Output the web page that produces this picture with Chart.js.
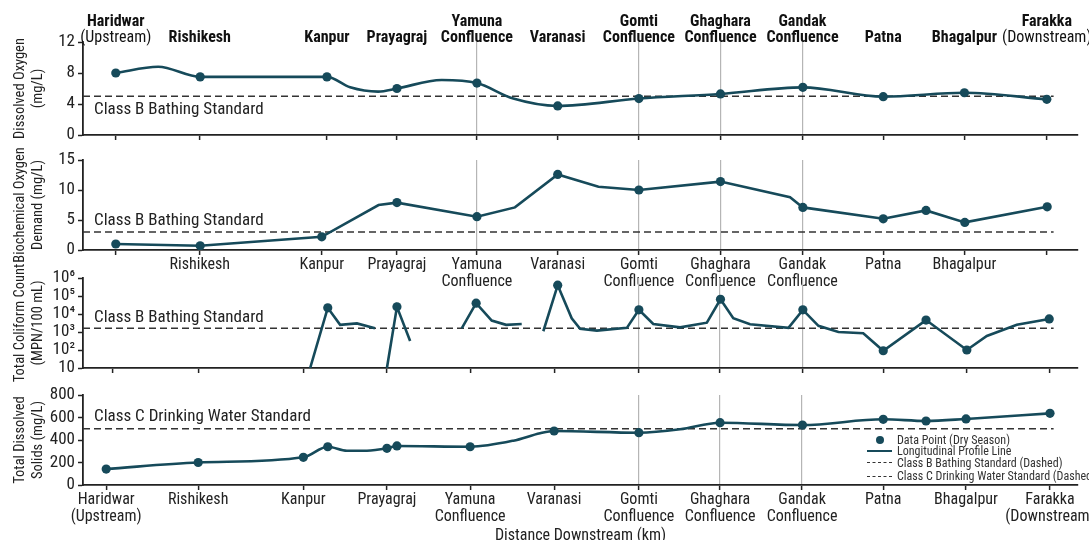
<!DOCTYPE html>
<html><head><meta charset="utf-8">
<script src="https://cdn.jsdelivr.net/npm/chart.js@4.4.1/dist/chart.umd.min.js"></script>
<style>
html,body{margin:0;padding:0;background:#fff;width:1089px;height:540px;overflow:hidden;position:relative;}
canvas{position:absolute;left:0;}
.lg{position:absolute;left:897px;white-space:nowrap;height:14px;line-height:14px;font-size:12px;color:#333;font-family:'Liberation Sans Narrow','Arial Narrow','Roboto Condensed','DejaVu Sans Condensed',sans-serif;}
.sym{position:absolute;}
</style></head><body>
<canvas id="c1" width="1089" height="145" style="top:0px"></canvas>
<canvas id="c2" width="1089" height="150" style="top:145px"></canvas>
<canvas id="c3" width="1089" height="135" style="top:247px"></canvas>
<canvas id="c4" width="1089" height="164" style="top:380px"></canvas>
<div class="sym" style="left:876px;top:436px;width:8px;height:8px;border-radius:50%;background:#164a5a"></div>
<div class="lg" style="top:433px">Data Point (Dry Season)</div>
<div class="sym" style="left:867px;top:450px;width:25px;height:0;border-top:2.5px solid #164a5a"></div>
<div class="lg" style="top:444px">Longitudinal Profile Line</div>
<div class="sym" style="left:867px;top:462px;width:25px;height:0;border-top:1.5px dashed #333"></div>
<div class="lg" style="top:456px">Class B Bathing Standard (Dashed)</div>
<div class="sym" style="left:867px;top:476px;width:25px;height:0;border-top:1.5px dashed #333"></div>
<div class="lg" style="top:469px">Class C Drinking Water Standard (Dashed)</div>
<script>
const F = "'Liberation Sans Narrow','Arial Narrow','Roboto Condensed','DejaVu Sans Condensed',sans-serif";
const TEAL = '#164a5a';
const XMIN = -82, XMAX = 2406, STD_END = 2345;

// station tick positions (km) per panel
const kmDO  = [0, 210, 528, 703, 903, 1105, 1308, 1512, 1717, 1919, 2122, 2328];
const kmBOD = [0, 210, 515, 703, 903, 1105, 1308, 1512, 1717, 1919, 2122, 2328];
const kmTC  = [-7, 208, 469, 678, 886, 1096, 1308, 1511, 1717, 1919, 2128, 2334];
const kmTDS = [-24, 206, 469, 678, 886, 1096, 1308, 1511, 1716, 1919, 2126, 2336];
const confUpper = [4, 6, 7, 8];
const confLower = [6, 7, 8];

// tick labels
const topLine1 = ["Haridwar", "", "", "", "Yamuna", "", "Gomti", "Ghaghara", "Gandak", "", "", "Farakka"];
const topLine2 = ["(Upstream)", "Rishikesh", "Kanpur", "Prayagraj", "Confluence", "Varanasi", "Confluence", "Confluence", "Confluence", "Patna", "Bhagalpur", "(Downstream)"];
const midLabels = ["", "Rishikesh", "Kanpur", "Prayagraj", ["Yamuna", "Confluence"], "Varanasi", ["Gomti", "Confluence"], ["Ghaghara", "Confluence"], ["Gandak", "Confluence"], "Patna", "Bhagalpur", ""];
const bottomLabels = [["Haridwar", "(Upstream)"], "Rishikesh", "Kanpur", "Prayagraj", ["Yamuna", "Confluence"], "Varanasi", ["Gomti", "Confluence"], ["Ghaghara", "Confluence"], ["Gandak", "Confluence"], "Patna", "Bhagalpur", ["Farakka", "(Downstream)"]];

// Dissolved Oxygen (mg/L)
const doLineX = [0, 106, 211, 528, 586, 656, 703, 815, 903, 994, 1105, 1308, 1512, 1718, 1919, 2122, 2328];
const doLineY = [8.0, 8.8, 7.5, 7.5, 6.15, 5.6, 6.0, 7.1, 6.7, 4.7, 3.75, 4.7, 5.3, 6.15, 4.95, 5.45, 4.6];
const doPtX = [0, 211, 528, 703, 903, 1105, 1308, 1512, 1718, 1919, 2122, 2328];
const doPtY = [8.0, 7.5, 7.5, 6.0, 6.7, 3.75, 4.7, 5.3, 6.15, 4.95, 5.45, 4.6];
const doStd = 5;
const doTicks = [0, 4, 8, 12];

// Biochemical Oxygen Demand (mg/L)
const bodLineX = [0, 211, 515, 657, 703, 903, 998, 1105, 1207, 1308, 1512, 1686, 1718, 1919, 2026, 2123, 2329];
const bodLineY = [1.0, 0.7, 2.2, 7.5, 7.9, 5.55, 7.1, 12.6, 10.55, 10.0, 11.4, 8.8, 7.1, 5.2, 6.6, 4.6, 7.2];
const bodPtX = [0, 211, 515, 703, 903, 1105, 1308, 1512, 1718, 1919, 2026, 2123, 2329];
const bodPtY = [1.0, 0.7, 2.2, 7.9, 5.55, 12.6, 10.0, 11.4, 7.1, 5.2, 6.6, 4.6, 7.2];
const bodStd = 3;
const bodTicks = [0, 5, 10, 15];

// Total Coliform (MPN/100 mL), null = break in the profile line
const tcLineX = [486, 530, 561, 603, 648, 660, 678, 703, 736, 800, 865, 901, 940, 976, 1015, 1040,
  1069, 1105, 1140, 1161, 1203, 1278, 1308, 1344, 1411, 1478, 1512, 1544, 1586, 1682, 1718, 1757, 1807, 1869, 1919, 2026, 2128, 2178, 2253, 2334];
const tcLineY = [10, 22000, 2500, 3000, 1600, null, 10, 25000, 316, null, 1600, 40000, 4300, 2500, 2800, null,
  1100, 400000, 5800, 1500, 1200, 1700, 17000, 2800, 1800, 3300, 66000, 5800, 2700, 1700, 17000, 2200, 1000, 850, 91, 4600, 100, 600, 2500, 5300];
const tcPtX = [530, 703, 901, 1105, 1308, 1512, 1718, 1919, 2026, 2128, 2334];
const tcPtY = [22000, 25000, 40000, 400000, 17000, 66000, 17000, 91, 4600, 100, 5300];
const tcStd = 1600;
const tcTicks = [10, 100, 1000, 10000, 100000, 1000000];
const tcTickLabels = ["10", "10²", "10³", "10⁴", "10⁵", "10⁶"];

// Total Dissolved Solids (mg/L)
const tdsLineX = [-24, 206, 469, 530, 578, 628, 678, 703, 886, 994, 1061, 1096, 1308, 1411, 1511, 1717, 1919, 2026, 2126, 2336];
const tdsLineY = [142, 200, 246, 340, 305, 305, 326, 347, 340, 394, 460, 480, 465, 495, 554, 533, 584, 569, 587, 637];
const tdsPtX = [-24, 206, 469, 530, 678, 703, 886, 1096, 1308, 1511, 1717, 1919, 2026, 2126, 2336];
const tdsPtY = [142, 200, 246, 340, 326, 347, 340, 480, 465, 554, 533, 584, 569, 587, 637];
const tdsStd = 500;
const tdsTicks = [0, 200, 400, 600, 800];

const pts = (xs, ys) => xs.map((x, i) => ({x: x, y: ys[i]}));

const stdLabelPlugin = {
  id: 'stdLabel',
  afterDatasetsDraw(chart, args, o) {
    if (!o || !o.text) return;
    const c = chart.ctx;
    const y = chart.scales.y.getPixelForValue(o.value) + o.dy;
    c.save();
    c.font = '17px ' + F;
    c.fillStyle = '#222';
    c.textAlign = 'left';
    c.textBaseline = 'middle';
    c.fillText(o.text, chart.chartArea.left + 11, y);
    c.restore();
  }
};

const topLabelPlugin = {
  id: 'topLabels',
  afterDraw(chart, args, o) {
    if (!o || !o.show) return;
    const c = chart.ctx, xs = chart.scales.x;
    c.save();
    c.fillStyle = '#111';
    c.textAlign = 'center';
    c.textBaseline = 'middle';
    kmDO.forEach((v, i) => {
      const px = xs.getPixelForValue(v);
      if (topLine1[i]) { c.font = 'bold 16px ' + F; c.fillText(topLine1[i], px, 22); }
      const t = topLine2[i];
      c.font = (t.startsWith('(') ? '' : 'bold ') + '16px ' + F;
      c.fillText(t, px, 38);
    });
    c.restore();
  }
};

function panel(id, o) {
  return new Chart(document.getElementById(id), {
    type: 'line',
    data: { datasets: [
      { label: 'Longitudinal Profile Line', data: pts(o.lineX, o.lineY), borderColor: TEAL, borderWidth: 2.6,
        pointRadius: 0, tension: o.tension || 0, cubicInterpolationMode: o.mono ? 'monotone' : 'default', spanGaps: false, order: 2 },
      { label: 'Data Point (Dry Season)', data: pts(o.ptX, o.ptY), showLine: false, pointRadius: 4.6,
        pointBackgroundColor: TEAL, pointBorderColor: TEAL, pointBorderWidth: 0, order: 1 },
      { label: 'Standard', data: [{x: XMIN, y: o.std}, {x: STD_END, y: o.std}], borderColor: '#333', borderWidth: 1.5,
        borderDash: [7, 4], pointRadius: 0, order: 3 }
    ]},
    options: {
      responsive: false, animation: false, events: [],
      layout: { padding: { top: o.padTop, left: 0, right: 11, bottom: 0 } },
      plugins: { legend: { display: false }, tooltip: { enabled: false },
        stdLabel: { text: o.stdText, value: o.std, dy: o.stdDy },
        topLabels: { show: !!o.top } },
      scales: {
        x: { type: 'linear', min: XMIN, max: XMAX,
          afterBuildTicks: s => { s.ticks = o.km.map(v => ({value: v})); },
          ticks: { display: !!o.xLabels, autoSkip: false, maxRotation: 0, minRotation: 0, padding: 2,
            font: { family: F, size: 16, lineHeight: 1.05 }, color: '#222',
            callback: (v, i) => o.xLabels ? o.xLabels[i] : '' },
          grid: { drawOnChartArea: true, color: c => o.conf.includes(c.index) ? '#b5b5b5' : 'rgba(0,0,0,0)',
            lineWidth: 1.2, tickColor: '#222', tickLength: 5, tickWidth: 1.5 },
          border: { display: true, color: '#222', width: 1.8 },
          title: { display: !!o.xTitle, text: o.xTitle || '', color: '#222', font: { family: F, size: 16, lineHeight: 1.05 }, padding: { top: 0, bottom: 0 } },
          afterFit: s => { s.height = o.xH; s.paddingLeft = 0; s.paddingRight = 0; }
        },
        y: { type: o.log ? 'logarithmic' : 'linear', min: o.ymin, max: o.ymax,
          afterBuildTicks: s => { s.ticks = o.yTicks.map(v => ({value: v})); },
          ticks: { autoSkip: false, font: { family: F, size: 17, lineHeight: 1.0 }, color: '#222', padding: 3,
            callback: (v, i) => o.yLabels ? o.yLabels[i] : String(v) },
          grid: { drawOnChartArea: false, tickLength: 5, tickColor: '#222', tickWidth: 1.5 },
          border: { display: true, color: '#222', width: 1.8 },
          title: { display: true, text: o.yTitle, color: '#222', font: { family: F, size: 14.5, lineHeight: 1.2 }, padding: { top: 12, bottom: 0 } },
          afterFit: s => { s.width = 83; s.paddingTop = 0; s.paddingBottom = 0; }
        }
      }
    },
    plugins: [stdLabelPlugin, topLabelPlugin]
  });
}

panel('c1', { km: kmDO, conf: confUpper, lineX: doLineX, lineY: doLineY, ptX: doPtX, ptY: doPtY, std: doStd,
  stdText: 'Class B Bathing Standard', stdDy: 13, ymin: 0, ymax: 12, yTicks: doTicks,
  yTitle: ['Dissolved Oxygen', '(mg/L)'], padTop: 42, xH: 10, top: true, mono: true });
panel('c2', { km: kmBOD, conf: confUpper, lineX: bodLineX, lineY: bodLineY, ptX: bodPtX, ptY: bodPtY, std: bodStd,
  stdText: 'Class B Bathing Standard', stdDy: -11, ymin: 0, ymax: 15, yTicks: bodTicks,
  yTitle: ['Biochemical Oxygen', 'Demand (mg/L)'], padTop: 15, xH: 45, xLabels: midLabels });
panel('c3', { km: kmTC, conf: confLower, lineX: tcLineX, lineY: tcLineY, ptX: tcPtX, ptY: tcPtY, std: tcStd,
  stdText: 'Class B Bathing Standard', stdDy: -11, ymin: 10, ymax: 1000000, yTicks: tcTicks, yLabels: tcTickLabels, log: true,
  yTitle: ['Total Coliform Count', '(MPN/100 mL)'], padTop: 31, xH: 14 });
panel('c4', { km: kmTDS, conf: confLower, lineX: tdsLineX, lineY: tdsLineY, ptX: tdsPtX, ptY: tdsPtY, std: tdsStd,
  stdText: 'Class C Drinking Water Standard', stdDy: -12, ymin: 0, ymax: 800, yTicks: tdsTicks,
  yTitle: ['Total Dissolved', 'Solids (mg/L)'], padTop: 15, xH: 59, xLabels: bottomLabels, xTitle: 'Distance Downstream (km)', mono: true });
</script>
</body></html>
